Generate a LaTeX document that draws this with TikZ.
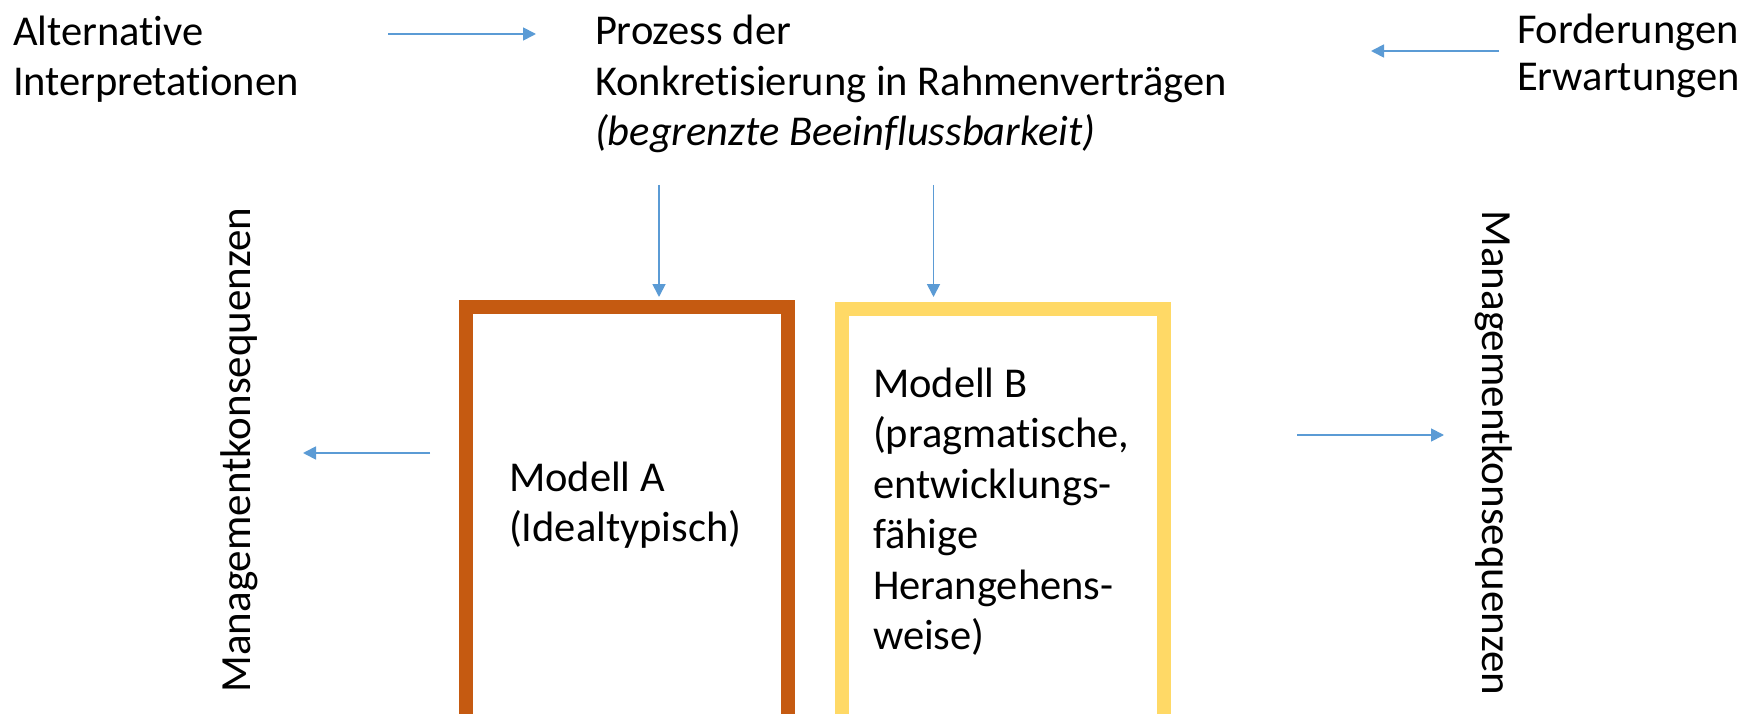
\documentclass[tikz,border=0pt]{standalone}
\usepackage{fontspec}
\setmainfont{Carlito}[Ligatures=NoCommon]
\usetikzlibrary{arrows.meta}
\definecolor{arrowblue}{HTML}{5B9BD5}
\definecolor{boxorange}{HTML}{C55A11}
\definecolor{boxyellow}{HTML}{FFD966}
\tikzset{
  lbl/.style={inner sep=0pt, outer sep=0pt, align=left, anchor=base west, font=\fontsize{42.5}{50.5}\selectfont},
  vlbl/.style={inner sep=0pt, outer sep=0pt, anchor=base, font=\fontsize{43}{50.5}\selectfont},
  conn/.style={draw=arrowblue, line width=1.8pt, -{Triangle[length=13pt,width=13pt]}},
  modelbox/.style={line width=14pt}
}
\begin{document}
\begin{tikzpicture}[x=1pt,y=-1pt]
\useasboundingbox (0,0) rectangle (1743,714);
\begin{scope}
\clip (0,0) rectangle (1743,714);
\draw[modelbox, boxorange] (466,307) rectangle (788,721);
\draw[modelbox, boxyellow] (841.5,309) rectangle (1163.5,723);
\end{scope}
% multi-line nodes: base anchor is the baseline of the last line
\node[lbl] (alt) at (13,96) {Alternative\\Interpretationen};
\node[lbl] (proz) at (595,146) {Prozess der\\Konkretisierung in Rahmenverträgen\\\textit{(begrenzte Beeinflussbarkeit)}};
\node[lbl, font=\fontsize{42.5}{47}\selectfont] (ford) at (1517,91) {Forderungen\\Erwartungen};
\node[lbl] (ma) at (509,541.5) {Modell A\\(Idealtypisch)};
\node[lbl] (mb) at (873,649.5) {Modell B\\(pragmatische,\\entwicklungs-\\fähige\\Herangehens-\\weise)};
\node[vlbl, rotate=90] (mkl) at (250,450) {Managementkonsequenzen};
\node[vlbl, rotate=-90] (mkr) at (1482,453) {Managementkonsequenzen};
\coordinate (a1s) at (388,34); \coordinate (a1e) at (536,34);
\coordinate (a2s) at (1499,51); \coordinate (a2e) at (1371,51);
\coordinate (a3s) at (659,185); \coordinate (a3e) at (659,297);
\coordinate (a4s) at (933.5,185); \coordinate (a4e) at (933.5,297);
\coordinate (a5s) at (430,453); \coordinate (a5e) at (303,453);
\coordinate (a6s) at (1297,435); \coordinate (a6e) at (1444,435);
\draw[conn] (a1s) -- (a1e);
\draw[conn] (a2s) -- (a2e);
\draw[conn] (a3s) -- (a3e);
\draw[conn] (a4s) -- (a4e);
\draw[conn] (a5s) -- (a5e);
\draw[conn] (a6s) -- (a6e);
\end{tikzpicture}
\end{document}
